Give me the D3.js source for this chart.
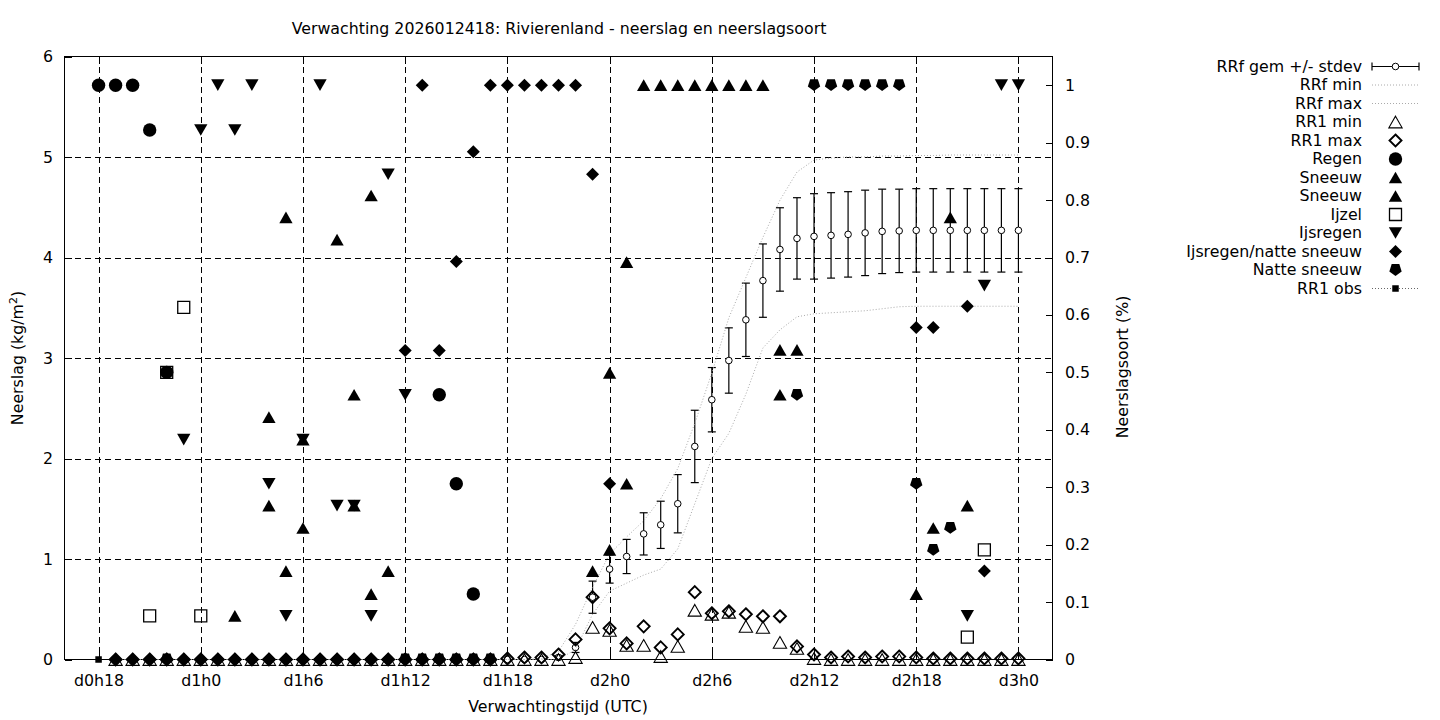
<!DOCTYPE html>
<html><head><meta charset="utf-8">
<script src="https://cdn.jsdelivr.net/npm/d3@7"></script>
<style>
body{margin:0;background:#fff}
svg{display:block}
text{font-family:"DejaVu Sans",sans-serif;font-size:15.8px;fill:#000}
</style>
</head><body>
<svg id="c" width="1440" height="720"></svg>
<script>
// ---------------- DATA ----------------
const title = "Verwachting 2026012418: Rivierenland - neerslag en neerslagsoort";
const xTickHours = [18,24,30,36,42,48,54,60,66,72];
const xTickLabels = ["d0h18","d1h0","d1h6","d1h12","d1h18","d2h0","d2h6","d2h12","d2h18","d3h0"];
const yTicks = [0,1,2,3,4,5,6];
const y2Ticks = [0,0.1,0.2,0.3,0.4,0.5,0.6,0.7,0.8,0.9,1];
const y2TickLabels = ["0","0.1","0.2","0.3","0.4","0.5","0.6","0.7","0.8","0.9","1"];

// forecast hours (hours since d0h0)
const hours = [19,20,21,22,23,24,25,26,27,28,29,30,31,32,33,34,35,36,37,38,39,40,41,42,43,44,45,46,47,48,49,50,51,52,53,54,55,56,57,58,59,60,61,62,63,64,65,66,67,68,69,70,71,72];
// RRf mean / stdev (kg/m2)
const rrfMean = [0,0,0,0,0,0,0,0,0,0,0,0,0,0,0,0,0,0,0,0,0,0,0,0,0,0,
  0.02,0.12,0.62,0.90,1.025,1.25,1.34,1.55,2.12,2.585,2.975,3.38,3.77,4.08,4.19,4.21,4.22,4.23,4.245,4.26,4.265,4.27,4.27,4.27,4.27,4.27,4.27,4.27];
const rrfStd = [0,0,0,0,0,0,0,0,0,0,0,0,0,0,0,0,0,0,0,0,0,0,0,0,0,0,
  0.02,0.05,0.16,0.14,0.17,0.21,0.235,0.29,0.36,0.32,0.325,0.365,0.365,0.415,0.405,0.425,0.425,0.425,0.425,0.42,0.415,0.415,0.415,0.415,0.415,0.415,0.415,0.415];
const rrfMin = [0,0,0,0,0,0,0,0,0,0,0,0,0,0,0,0,0,0,0,0,0,0,0,0,0,0,
  0,0.1,0.45,0.68,0.76,0.84,0.9,1.1,1.55,2.0,2.25,2.64,3.1,3.28,3.41,3.44,3.45,3.46,3.47,3.49,3.51,3.515,3.515,3.515,3.515,3.515,3.515,3.515];
const rrfMax = [0,0,0,0,0,0,0,0,0,0,0,0,0,0,0,0,0,0,0,0,0,0,0,0,0,
  0.01,0.08,0.35,0.72,1.05,1.22,1.38,1.6,1.9,2.35,2.85,3.4,3.8,4.2,4.57,4.85,4.97,4.99,5.0,5.0,5.01,5.01,5.015,5.015,5.02,5.02,5.02,5.02,5.02];
const rr1Min = [0,0,0,0,0,0,0,0,0,0,0,0,0,0,0,0,0,0,0,0,0,0,0,0,0,0,0,
  0.02,0.32,0.29,0.14,0.14,0.03,0.13,0.49,0.45,0.47,0.33,0.32,0.17,0.11,0.01,0,0,0,0,0,0,0,0,0,0,0,0];
const rr1Max = [0,0,0,0,0,0,0,0,0,0,0,0,0,0,0,0,0,0,0,0,0,0,0,
  0.01,0.02,0.02,0.05,0.2,0.62,0.31,0.16,0.33,0.12,0.25,0.67,0.46,0.48,0.45,0.43,0.43,0.13,0.05,0.02,0.03,0.02,0.03,0.03,0.02,0.01,0.01,0.01,0.01,0.01,0.01];
const rr1Obs = [[18,0]];

// precipitation type fractions [hour, fraction] (right axis)
const regen = [[18,1],[19,1],[20,1],[21,0.922],[22,0.5],[38,0.461],[39,0.306],[40,0.114]];
const sneeuwA = [[26,0.076],[28,0.422],[29,0.77],[30,0.383],[32,0.731],[33,0.461],[34,0.808],[47,0.154],[48,0.499],[49,0.692],
  [50,1],[51,1],[52,1],[53,1],[54,1],[55,1],[56,1],[57,1],[58,0.539],[59,0.539],[66,0.114],[67,0.229],[68,0.77],[69,0.268]];
const sneeuwB = [[28,0.268],[29,0.154],[30,0.229],[33,0.268],[34,0.114],[35,0.154],[48,0.191],[49,0.306],[58,0.461]];
const ijzel = [[21,0.076],[22,0.5],[23,0.613],[24,0.076],[69,0.039],[70,0.191]];
const ijsregen = [[23,0.383],[24,0.922],[25,1],[26,0.922],[27,1],[28,0.306],[29,0.076],[30,0.383],[31,1],[32,0.268],[33,0.268],
  [34,0.076],[35,0.845],[36,0.461],[69,0.076],[70,0.651],[71,1],[72,1]];
const ijsregenNatte = [[19,0],[20,0],[21,0],[22,0.5],[23,0],[24,0],[25,0],[26,0],[27,0],[28,0],[29,0],[30,0],[31,0],[32,0],[33,0],[34,0],[35,0],
  [36,0.538],[37,1],[38,0.538],[39,0.693],[40,0.884],[41,1],[42,1],[43,1],[44,1],[45,1],[46,1],
  [47,0.845],[48,0.306],[66,0.578],[67,0.578],[69,0.615],[70,0.154]];
const natteSneeuw = [[22,0],[36,0],[37,0],[38,0],[39,0],[40,0],[41,0],
  [59,0.461],[60,1],[61,1],[62,1],[63,1],[64,1],[65,1],[66,0.306],[67,0.191],[68,0.229]];

// ---------------- CHART ----------------
const svg = d3.select("#c");
const L = 64.5, R = 1052.5, T = 56.5, B = 659.5;
const x = d3.scaleLinear().domain([16,74]).range([L,R]);
const y = d3.scaleLinear().domain([0,6]).range([B,T]);
const y2 = d3.scaleLinear().domain([0,1.05]).range([B,T]);

// symbol shapes
function sym(type){
  switch(type){
    case "circle": { const r=6.7; return `M${-r},0A${r},${r} 0 1,0 ${r},0A${r},${r} 0 1,0 ${-r},0Z`; }
    case "triUp": { const w=13.3,h=11.7; return `M0,${-h/2}L${w/2},${h/2}L${-w/2},${h/2}Z`; }
    case "triDown": { const w=13.3,h=11.7; return `M0,${h/2}L${w/2},${-h/2}L${-w/2},${-h/2}Z`; }
    case "diamond": { const w=13,h=13; return `M0,${-h/2}L${w/2},0L0,${h/2}L${-w/2},0Z`; }
    case "odiamond": { const w=12,h=12; return `M0,${-h/2}L${w/2},0L0,${h/2}L${-w/2},0Z`; }
    case "square": { const s=12; return `M${-s/2},${-s/2}h${s}v${s}h${-s}Z`; }
    case "obs": { const s=6.5; return `M${-s/2},${-s/2}h${s}v${s}h${-s}Z`; }
    case "pent": { const r=6.5, o=-0.095*r;
      const p=[[-0.5878,-0.809],[-0.9511,0.309],[0,1],[0.9511,0.309],[0.5878,-0.809]];
      return "M"+p.map(q=>`${q[0]*r},${q[1]*r+o}`).join("L")+"Z"; }
  }
}
const styles = {
  circle:{fill:"#000",stroke:"none",sw:0},
  triUp:{fill:"#000",stroke:"none",sw:0},
  triDown:{fill:"#000",stroke:"none",sw:0},
  diamond:{fill:"#000",stroke:"none",sw:0},
  pent:{fill:"#000",stroke:"none",sw:0},
  square:{fill:"none",stroke:"#000",sw:1.3},
  otri:{fill:"none",stroke:"#000",sw:1.1},
  odiamond:{fill:"none",stroke:"#000",sw:1.9},
  obs:{fill:"#000",stroke:"none",sw:0}
};
function drawSym(g, px, py, type, shape){
  const st = styles[type];
  g.append("path").attr("transform",`translate(${px},${py})`)
    .attr("d", sym(shape||type)).attr("fill",st.fill).attr("stroke",st.stroke).attr("stroke-width",st.sw)
    .attr("stroke-linejoin","miter");
}

// grid
const grid = svg.append("g").attr("stroke","#000").attr("stroke-width",1).attr("stroke-dasharray","6,4").attr("shape-rendering","crispEdges");
grid.selectAll("line.v").data(xTickHours).join("line")
  .attr("x1",d=>Math.round(x(d))+0.5).attr("x2",d=>Math.round(x(d))+0.5).attr("y1",T).attr("y2",B);
grid.selectAll("line.h").data(yTicks.slice(1,-1)).join("line").attr("class","h")
  .attr("x1",L).attr("x2",R).attr("y1",d=>Math.round(y(d))+0.5).attr("y2",d=>Math.round(y(d))+0.5);

// axes
function styleAxis(g){ g.select(".domain").remove(); g.selectAll(".tick line").attr("stroke","#000").attr("shape-rendering","crispEdges"); g.selectAll("text").attr("font-size",15.8).attr("font-family","DejaVu Sans"); }
svg.append("g").attr("transform",`translate(0,${B})`)
  .call(d3.axisBottom(x).tickValues(xTickHours).tickFormat((d,i)=>xTickLabels[i]).tickSizeInner(-7).tickSizeOuter(0).tickPadding(15.5))
  .call(styleAxis);
svg.append("g").attr("transform",`translate(0,${T})`)
  .call(d3.axisTop(x).tickValues(xTickHours).tickFormat("").tickSizeInner(-7).tickSizeOuter(0))
  .call(styleAxis);
svg.append("g").attr("transform",`translate(${L},0)`)
  .call(d3.axisLeft(y).tickValues(yTicks).tickFormat(d3.format("d")).tickSizeInner(-7).tickSizeOuter(0).tickPadding(11.5))
  .call(styleAxis);
svg.append("g").attr("transform",`translate(${R},0)`)
  .call(d3.axisRight(y2).tickValues(y2Ticks).tickFormat((d,i)=>y2TickLabels[i]).tickSizeInner(-7).tickSizeOuter(0).tickPadding(12.5))
  .call(styleAxis);

// frame
svg.append("rect").attr("x",L).attr("y",T).attr("width",R-L).attr("height",B-T)
  .attr("fill","none").attr("stroke","#000").attr("stroke-width",1).attr("shape-rendering","crispEdges");

const plot = svg.append("g");

// RRf errorbars + mean
const eb = plot.append("g").attr("stroke","#000").attr("stroke-width",1.2);
hours.forEach((h,i)=>{
  const cx=x(h), lo=y(rrfMean[i]-rrfStd[i]), hi=y(rrfMean[i]+rrfStd[i]);
  eb.append("line").attr("x1",cx).attr("x2",cx).attr("y1",lo).attr("y2",hi);
  eb.append("line").attr("x1",cx-4).attr("x2",cx+4).attr("y1",lo).attr("y2",lo);
  eb.append("line").attr("x1",cx-4).attr("x2",cx+4).attr("y1",hi).attr("y2",hi);
});
plot.append("g").selectAll("circle").data(hours).join("circle")
  .attr("cx",d=>x(d)).attr("cy",(d,i)=>y(rrfMean[i])).attr("r",3.3)
  .attr("fill","#fff").attr("stroke","#000").attr("stroke-width",1);

// RRf min / max dotted lines
const line = d3.line().x(d=>x(d[0])).y(d=>y(d[1]));
[rrfMin, rrfMax].forEach(arr=>{
  plot.append("path").attr("d", line(hours.map((h,i)=>[h,arr[i]])))
    .attr("fill","none").attr("stroke","#aaa").attr("stroke-width",1).attr("stroke-dasharray","1,2");
});

// RR1 min / max
hours.forEach((h,i)=>drawSym(plot, x(h), y(rr1Min[i]), "otri", "triUp"));
hours.forEach((h,i)=>drawSym(plot, x(h), y(rr1Max[i]), "odiamond"));

// type fractions
regen.forEach(d=>drawSym(plot, x(d[0]), y2(d[1]), "circle"));
sneeuwA.forEach(d=>drawSym(plot, x(d[0]), y2(d[1]), "triUp"));
sneeuwB.forEach(d=>drawSym(plot, x(d[0]), y2(d[1]), "triUp"));
ijzel.forEach(d=>drawSym(plot, x(d[0]), y2(d[1]), "square"));
ijsregen.forEach(d=>drawSym(plot, x(d[0]), y2(d[1]), "triDown"));
ijsregenNatte.forEach(d=>drawSym(plot, x(d[0]), y2(d[1]), "diamond"));
natteSneeuw.forEach(d=>drawSym(plot, x(d[0]), y2(d[1]), "pent"));
// RR1 obs
plot.append("path").attr("d", line(rr1Obs)).attr("fill","none").attr("stroke","#666").attr("stroke-dasharray","1,2");
rr1Obs.forEach(d=>drawSym(plot, x(d[0]), y(d[1]), "obs"));

// titles
svg.append("text").attr("x",559).attr("y",34).attr("text-anchor","middle").text(title);
svg.append("text").attr("x",558).attr("y",712).attr("text-anchor","middle").text("Verwachtingstijd (UTC)");
const yl = svg.append("text").attr("transform","translate(23,358) rotate(-90)").attr("text-anchor","middle");
yl.append("tspan").text("Neerslag (kg/m");
yl.append("tspan").attr("dy",-6).attr("font-size",11).text("2");
yl.append("tspan").attr("dy",6).text(")");
svg.append("text").attr("transform","translate(1128,367) rotate(-90)").attr("text-anchor","middle").text("Neerslagsoort (%)");

// legend
const legendItems = [
  {label:"RRf gem +/- stdev", kind:"eb"},
  {label:"RRf min", kind:"dot"},
  {label:"RRf max", kind:"dot"},
  {label:"RR1 min", kind:"sym", type:"otri", shape:"triUp"},
  {label:"RR1 max", kind:"sym", type:"odiamond"},
  {label:"Regen", kind:"sym", type:"circle"},
  {label:"Sneeuw", kind:"sym", type:"triUp"},
  {label:"Sneeuw", kind:"sym", type:"triUp"},
  {label:"Ijzel", kind:"sym", type:"square"},
  {label:"Ijsregen", kind:"sym", type:"triDown"},
  {label:"Ijsregen/natte sneeuw", kind:"sym", type:"diamond"},
  {label:"Natte sneeuw", kind:"sym", type:"pent"},
  {label:"RR1 obs", kind:"obs"}
];
const lg = svg.append("g");
const lx1=1372, lx2=1419, lxc=1395.5;
legendItems.forEach((it,i)=>{
  const ly = 66.5 + i*18.5;
  lg.append("text").attr("x",1362).attr("y",ly+5).attr("text-anchor","end").text(it.label);
  if(it.kind==="eb"){
    lg.append("line").attr("x1",lx1).attr("x2",lx2).attr("y1",ly).attr("y2",ly).attr("stroke","#000").attr("stroke-width",1.2);
    lg.append("line").attr("x1",lx1).attr("x2",lx1).attr("y1",ly-4).attr("y2",ly+4).attr("stroke","#000").attr("stroke-width",1.2);
    lg.append("line").attr("x1",lx2).attr("x2",lx2).attr("y1",ly-4).attr("y2",ly+4).attr("stroke","#000").attr("stroke-width",1.2);
    lg.append("circle").attr("cx",lxc).attr("cy",ly).attr("r",3.3).attr("fill","#fff").attr("stroke","#000");
  } else if(it.kind==="dot"){
    lg.append("line").attr("x1",lx1).attr("x2",lx2).attr("y1",ly).attr("y2",ly).attr("stroke","#aaa").attr("stroke-dasharray","1,2");
  } else if(it.kind==="obs"){
    lg.append("line").attr("x1",lx1).attr("x2",lx2).attr("y1",ly).attr("y2",ly).attr("stroke","#666").attr("stroke-dasharray","1,2");
    drawSym(lg, lxc, ly, "obs");
  } else {
    drawSym(lg, lxc, ly, it.type, it.shape);
  }
});
</script>
</body></html>
